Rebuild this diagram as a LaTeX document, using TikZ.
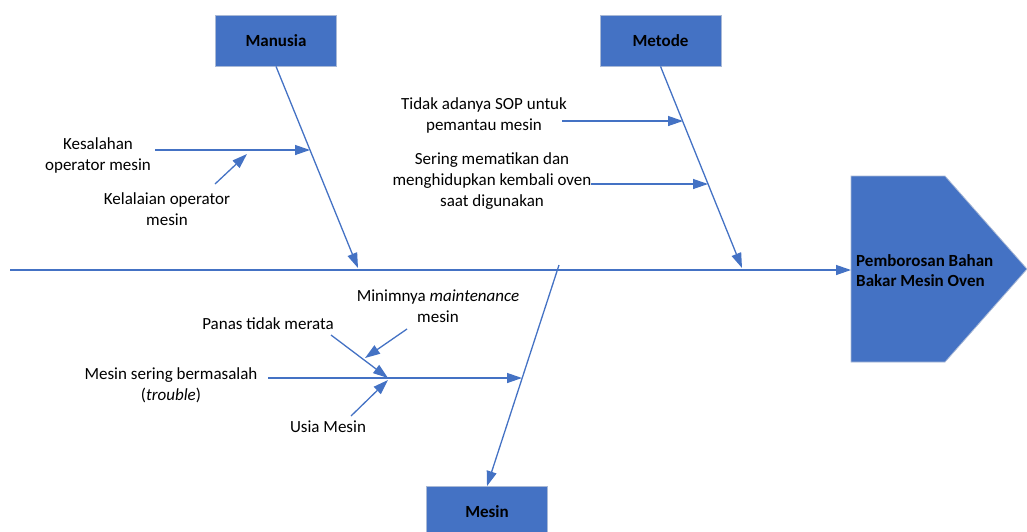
\documentclass[tikz,border=0pt]{standalone}
\usepackage{fontspec}
\setmainfont{Carlito}
\usetikzlibrary{arrows.meta}
\usetikzlibrary{positioning}

\definecolor{fishblue}{HTML}{4472C4}
\definecolor{boxedge}{HTML}{A9B9D6}

\tikzset{
    cat/.style={draw=boxedge, fill=fishblue, line width=0.8pt, minimum width=121pt, minimum height=51pt, font=\fontsize{17}{20}\selectfont\bfseries},
    cause/.style={align=center, font=\fontsize{17}{21}\selectfont, inner sep=0pt},
    bone/.style={->, draw=fishblue, line width=1.3pt},
}

\begin{document}
\begin{tikzpicture}[x=1pt, y=-1pt, >={Triangle[length=15pt,width=10pt]}]
    \useasboundingbox (0,0) rectangle (1027,531);

    % head of the fish
    \fill[fishblue, draw=boxedge, line width=0.8pt] (851,176) -- (945,176) -- (1027,269) -- (945,362) -- (851,362) -- cycle;
    \node (effect) [anchor=west, align=left, inner sep=0pt, font=\fontsize{17}{20}\selectfont\bfseries] at (856,271) {Pemborosan Bahan\\Bakar Mesin Oven};

    % categories
    \node[cat] (Manusia) at (276,40.5) {Manusia};
    \node[cat] (Metode) at (660.5,40.5) {Metode};
    \node[cat] (Mesin) at (487,512) {Mesin};

    % spine
    \coordinate (tail) at (10,270);
    \coordinate (head) at (851,270);
    \draw[bone] (tail) -- (head);

    % main bones
    \coordinate (manusiaEnd) at (358,268);
    \coordinate (metodeEnd) at (742,268);
    \coordinate (mesinTop) at (559,265);
    \draw[bone] (Manusia.south) -- (manusiaEnd);
    \draw[bone] (Metode.south) -- (metodeEnd);
    \draw[bone] (mesinTop) -- (Mesin.north);

    % Manusia causes
    \node[cause] (kesalahan) at (98,155) {Kesalahan\\operator mesin};
    \node[cause] (kelalaian) at (167,209) {Kelalaian operator\\mesin};
    \coordinate (kesalahanStart) at (155,150);
    \coordinate (kesalahanEnd) at (310,150);
    \coordinate (kelalaianStart) at (215,184);
    \coordinate (kelalaianEnd) at (247,154);
    \draw[bone] (kesalahanStart) -- (kesalahanEnd);
    \draw[bone] (kelalaianStart) -- (kelalaianEnd);

    % Metode causes
    \node[cause] (sop) at (484,115) {Tidak adanya SOP untuk\\pemantau mesin};
    \node[cause] (sering) at (492,181) {Sering mematikan dan\\menghidupkan kembali oven\\saat digunakan};
    \coordinate (sopStart) at (562,121);
    \coordinate (sopEnd) at (683,121);
    \coordinate (seringStart) at (591,184);
    \coordinate (seringEnd) at (708,184);
    \draw[bone] (sopStart) -- (sopEnd);
    \draw[bone] (seringStart) -- (seringEnd);

    % Mesin causes
    \node[cause] (trouble) at (171,385) {Mesin sering bermasalah\\(\textit{trouble})};
    \node[cause] (panas) at (268,324) {Panas tidak merata};
    \node[cause] (minim) at (438,306) {Minimnya \textit{maintenance}\\mesin};
    \node[cause] (usia) at (328,427) {Usia Mesin};
    \coordinate (troubleStart) at (268,378);
    \coordinate (troubleMid) at (388,378);
    \coordinate (troubleEnd) at (522,378);
    \coordinate (panasStart) at (331,335);
    \coordinate (minimStart) at (407,329);
    \coordinate (minimEnd) at (365,358);
    \coordinate (usiaStart) at (351,416);
    \coordinate (usiaEnd) at (388,380);
    \draw[bone] (troubleStart) -- (troubleEnd);
    \draw[bone] (panasStart) -- (troubleMid);
    \draw[bone] (minimStart) -- (minimEnd);
    \draw[bone] (usiaStart) -- (usiaEnd);
\end{tikzpicture}
\end{document}
